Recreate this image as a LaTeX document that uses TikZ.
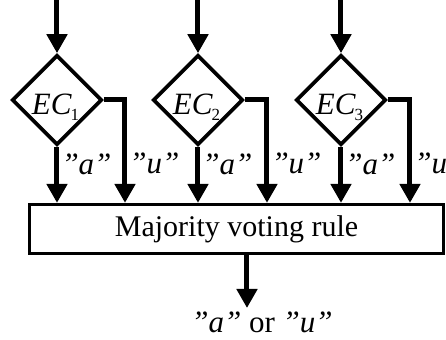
\documentclass[tikz,border=0pt]{standalone}
\usepackage{fontspec}
\setmainfont{Liberation Serif}
\usetikzlibrary{shapes.geometric,arrows.meta,positioning}

\newcommand\ecsub[1]{\raisebox{-0.4ex}{\upshape\fontsize{8.5}{9}\selectfont #1}}
\newcommand\eclabel[1]{\raisebox{-7.5pt}[0pt][0pt]{EC\kern-0.5pt\ecsub{#1}\kern1.5pt}}

\begin{document}
\begin{tikzpicture}[x=0.5pt, y=0.5pt, >={Triangle[width=10pt,length=9.5pt]}, line width=2.5pt,
    ec/.style={draw, diamond, aspect=1, inner sep=0pt, minimum width=45pt, minimum height=45pt,
        line width=1.8pt, font=\fontsize{15.5}{16}\selectfont\itshape},
    rulebox/.style={draw, rectangle, inner sep=0pt, minimum width=207pt, minimum height=24.5pt,
        line width=1.6pt, font=\fontsize{15}{16}\selectfont},
    vote/.style={right, inner sep=1pt, font=\fontsize{15.5}{16}\selectfont\itshape}]
    \def\Dy{240}
    \useasboundingbox (0,0) rectangle (446,340);
    \coordinate (top) at (0,340);

    % Expert classifiers
    \node[ec] (ec1) at (57,\Dy) {\eclabel{1}};
    \node[ec] (ec2) at (198,\Dy) {\eclabel{2}};
    \node[ec] (ec3) at (341,\Dy) {\eclabel{3}};

    % Voting box
    \node[rulebox] (vote) at (236.5,111) {Majority voting rule};

    % Inputs
    \draw[->] (ec1.north |- top) -- (ec1.north);
    \draw[->] (ec2.north |- top) -- (ec2.north);
    \draw[->] (ec3.north |- top) -- (ec3.north);

    % "a" branches
    \draw[->] (ec1.south) -- (ec1.south |- vote.north) node[vote, pos=0.32] {''a''};
    \draw[->] (ec2.south) -- (ec2.south |- vote.north) node[vote, pos=0.32] {''a''};
    \draw[->] (ec3.south) -- (ec3.south |- vote.north) node[vote, pos=0.32] {''a''};

    % "u" branches
    \coordinate (u1) at (125,\Dy);
    \coordinate (u2) at (267,\Dy);
    \coordinate (u3) at (410,\Dy);
    \draw[->] (ec1.east) -- (u1) -- (u1 |- vote.north) node[vote, pos=0.62] {''u''};
    \draw[->] (ec2.east) -- (u2) -- (u2 |- vote.north) node[vote, pos=0.62] {''u''};
    \draw[->] (ec3.east) -- (u3) -- (u3 |- vote.north) node[vote, pos=0.62] {''u''};

    % Output
    \coordinate (out) at (247,32);
    \draw[->] (vote.south -| out) -- (out);
    \node[anchor=base, font=\fontsize{15.5}{16}\selectfont] (result) at (262,7)
        {\textit{''a''} or \textit{''u''}};
\end{tikzpicture}
\end{document}
